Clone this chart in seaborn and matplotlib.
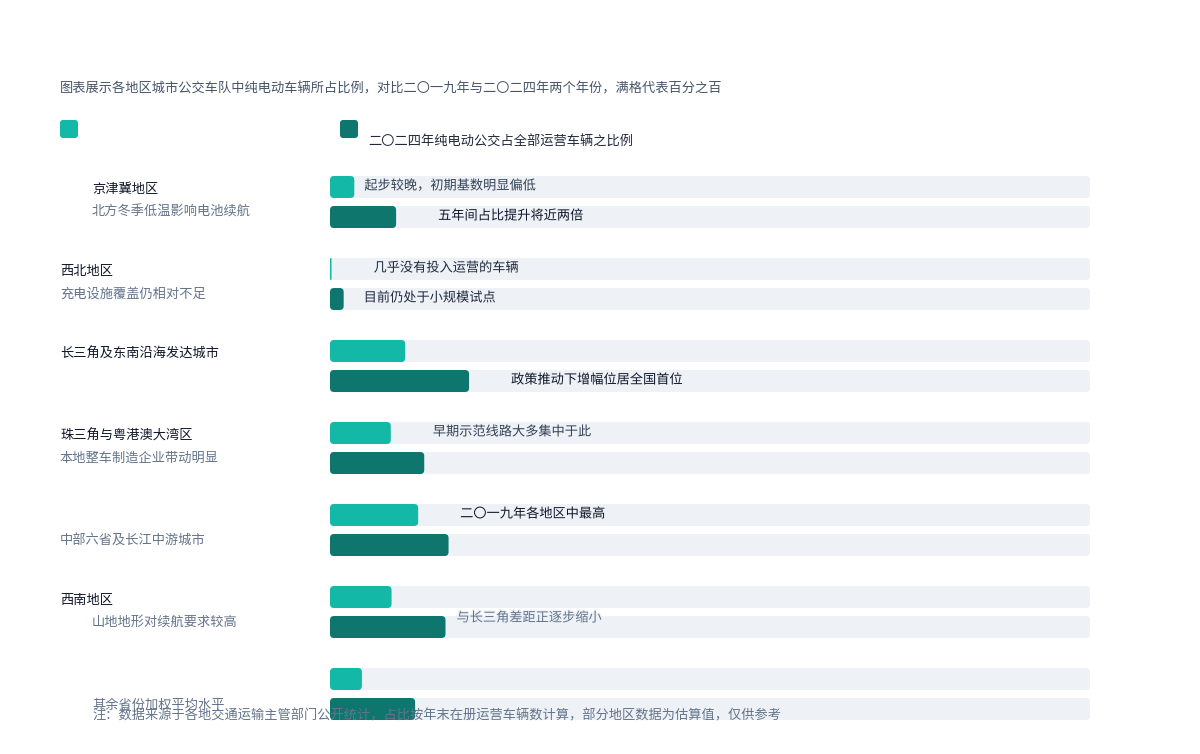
import pandas as pd
import matplotlib
matplotlib.use("Agg")
import matplotlib.pyplot as plt
import matplotlib.patheffects as pe
from matplotlib.patches import FancyBboxPatch
import seaborn as sns

# ---- data ----
regions = ["京津冀", "西北", "长三角", "珠三角", "中部", "西南", "其他"]
main_labels = ["京津冀地区", "西北地区", "长三角及东南沿海发达城市", "珠三角与粤港澳大湾区",
               "", "西南地区", ""]
sub_labels = ["北方冬季低温影响电池续航", "充电设施覆盖仍相对不足", "", "本地整车制造企业带动明显",
              "中部六省及长江中游城市", "山地地形对续航要求较高", "其余省份加权平均水平"]
series_names = ["二〇一九年", "二〇二四年"]
share_2019 = [3.2, 0.2, 9.9, 8.0, 11.6, 8.1, 4.2]
share_2024 = [8.7, 1.8, 18.3, 12.4, 15.6, 15.2, 11.2]
track_max = 100

subtitle = ("图表展示各地区城市公交车队中纯电动车辆所占比例，对比二〇一九年与二〇二四年两个年份，"
            "满格代表百分之百")
legend_texts = ["", "二〇二四年纯电动公交占全部运营车辆之比例"]
footnote = ("注：数据来源于各地交通运输主管部门公开统计，占比按年末在册运营车辆数计算，"
            "部分地区数据为估算值，仅供参考")

# (row, series index, note)
notes = [
    (0, 0, "起步较晚，初期基数明显偏低"),
    (0, 1, "五年间占比提升将近两倍"),
    (1, 0, "几乎没有投入运营的车辆"),
    (1, 1, "目前仍处于小规模试点"),
    (2, 1, "政策推动下增幅位居全国首位"),
    (3, 0, "早期示范线路大多集中于此"),
    (4, 0, "二〇一九年各地区中最高"),
    (5, 1, "与长三角差距正逐步缩小"),
]

# ---- style ----
teal_light = "#14b8a6"
teal_dark = "#0f766e"
track_color = "#eef2f7"
ink = "#0f172a"
muted = "#64748b"

sns.set_theme(style="white")
plt.rcParams["font.family"] = ["Noto Sans CJK SC", "DejaVu Sans"]
fs = 9.5

W, H = 1200, 754
fig = plt.figure(figsize=(W / 100, H / 100), dpi=100)
fig.patch.set_facecolor("white")

# bar axes: x 330..1090 px, rows centred at 202 + 82*i px
ax = fig.add_axes([330 / W, (H - 735) / H, 760 / W, 574 / H])

df = pd.DataFrame({
    "region": regions * 2,
    "series": [series_names[0]] * len(regions) + [series_names[1]] * len(regions),
    "share": share_2019 + share_2024,
})
track = df.assign(share=track_max)

bar_kw = dict(y="region", x="share", hue="series", orient="h", width=0.732, gap=0.267,
              saturation=1, errorbar=None, legend=False, ax=ax)
sns.barplot(data=track, palette=[track_color, track_color], **bar_kw)
sns.barplot(data=df, palette=[teal_light, teal_dark], **bar_kw)

ax.set_xlim(0, track_max)
ax.set_ylim(len(regions) - 0.5, -0.5)
ax.axis("off")

# round the bar corners (4 px radius)
px_x = 760 / track_max
px_y = 574 / len(regions)
aspect = px_x / px_y
for p in list(ax.patches):
    x0, y0 = p.get_xy()
    w, h = p.get_width(), p.get_height()
    r = min(4 / px_x, w / 2)
    fb = FancyBboxPatch((x0, y0), w, h, boxstyle=f"round,pad=0,rounding_size={r}",
                        mutation_aspect=aspect, fc=p.get_facecolor(), ec="none",
                        zorder=p.get_zorder())
    p.remove()
    ax.add_patch(fb)

# notes next to bars
note_offsets = {(0, 0): (10, -1), (0, 1): (42, -1), (1, 0): (42, -1), (1, 1): (20, -1),
                (2, 1): (42, -1), (3, 0): (42, -1), (4, 0): (42, -1), (5, 1): (11, -9)}
note_colors = {(0, 0): "#334155", (0, 1): ink, (1, 0): "#1e293b", (1, 1): "#1e293b",
               (2, 1): ink, (3, 0): "#334155", (4, 0): ink, (5, 1): muted}
values = [share_2019, share_2024]
for row, s, txt in notes:
    dx, dy = note_offsets[(row, s)]
    yc = row + (-0.183 if s == 0 else 0.183)
    ax.annotate(txt, xy=(values[s][row], yc), xytext=(dx * 0.72, -dy * 0.72),
                textcoords="offset points", ha="left", va="center", fontsize=fs,
                color=note_colors[(row, s)],
                path_effects=[pe.withStroke(linewidth=2, foreground=track_color)])

# overlay in pixel coordinates for the surrounding text
ov = fig.add_axes([0, 0, 1, 1], zorder=5)
ov.set_xlim(0, W)
ov.set_ylim(H, 0)
ov.axis("off")

ov.text(60, 89, subtitle, fontsize=fs, color="#475569", va="center", ha="left")

for x0, c in [(60, teal_light), (340, teal_dark)]:
    ov.add_patch(FancyBboxPatch((x0, 120), 18, 18, boxstyle="round,pad=0,rounding_size=3",
                                fc=c, ec="none"))
ov.text(80, 131, legend_texts[0], fontsize=fs, color="#1e293b", va="center")
ov.text(368, 142, legend_texts[1], fontsize=fs, color="#1e293b", va="center")

main_x = [92, 60, 60, 60, 60, 60, 92]
sub_x = [92, 60, 60, 60, 60, 92, 92]
for i in range(len(regions)):
    top = 176 + 82 * i
    if main_labels[i]:
        ov.text(main_x[i], top + 14, main_labels[i], fontsize=fs, color=ink, va="center")
    if sub_labels[i]:
        sy = top + 36 if i < 6 else top + 37
        ov.text(sub_x[i], sy, sub_labels[i], fontsize=fs, color=muted, va="center")

ov.text(92, 716, footnote, fontsize=fs, color=muted, va="center")

fig.savefig("out.png", dpi=100)
